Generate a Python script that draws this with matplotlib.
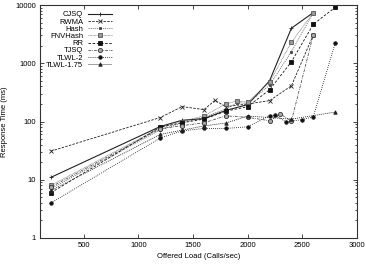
import matplotlib
matplotlib.use("Agg")
import matplotlib.pyplot as plt
from matplotlib.ticker import LogLocator, NullFormatter, FixedLocator

# ---- data ----
cjsq_x = [200, 1200, 1400, 1600, 1800, 2000, 2200, 2400, 2600]
cjsq_y = [11, 82, 105, 112, 155, 195, 500, 4000, 7400]

rwma_x = [200, 1200, 1400, 1600, 1700, 1800, 2000, 2200, 2400, 2600]
rwma_y = [31, 117, 180, 160, 230, 180, 200, 228, 410, 3060]

hash_x = [200, 1200, 1400, 1600, 1800, 1900, 2000, 2200, 2400, 2600]
hash_y = [7, 72, 95, 118, 165, 210, 205, 420, 1580, 7400]

fnv_x = [200, 1200, 1400, 1600, 1800, 1900, 2000, 2200, 2400, 2600]
fnv_y = [8, 78, 100, 125, 200, 225, 215, 470, 2300, 7400]

rr_x = [200, 1200, 1400, 1600, 1800, 2000, 2200, 2400, 2600, 2800]
rr_y = [6, 80, 95, 110, 150, 180, 350, 1060, 4660, 9100]

tjsq_x = [200, 1200, 1400, 1600, 1800, 2000, 2200, 2300, 2400, 2600]
tjsq_y = [7.5, 75, 85, 95, 125, 118, 103, 134, 102, 3060]

tlwl2_x = [200, 1200, 1400, 1600, 1800, 2000, 2200, 2250, 2350, 2500, 2600, 2800]
tlwl2_y = [4, 52, 69, 76, 76, 81, 126, 128, 98, 108, 121, 2200]

tlwl175_x = [200, 1200, 1400, 1600, 1800, 2000, 2400, 2800]
tlwl175_y = [6.5, 60, 71, 84, 94, 124, 110, 145]

labels = ["CJSQ", "RWMA", "Hash", "FNVHash", "RR", "TJSQ", "TLWL-2", "TLWL-1.75"]
x_ticks = [500, 1000, 1500, 2000, 2500, 3000]

plt.rcParams['font.family'] = ['Liberation Sans', 'DejaVu Sans']

fig = plt.figure(figsize=(3.66, 2.65), dpi=100)
ax = fig.add_axes([40/366, 1-238/265, (357-40)/366, (238-5)/265])

series = [
    (cjsq_x, cjsq_y, dict(ls='-', marker='+', ms=3.5, color='#222222', lw=0.8)),
    (rwma_x, rwma_y, dict(ls=(0, (3, 1.5)), marker='x', ms=2.5, color='#222222', lw=0.6)),
    (hash_x, hash_y, dict(ls=(0, (1.5, 1.5)), marker='s', ms=2, color='#444444', lw=0.5)),
    (fnv_x, fnv_y, dict(ls=(0, (1, 1)), marker='s', ms=3, mfc='#999999', color='#555555', lw=0.5)),
    (rr_x, rr_y, dict(ls=(0, (3, 2)), marker='s', ms=3, color='#111111', lw=0.6)),
    (tjsq_x, tjsq_y, dict(ls=(0, (4, 1.5, 1, 1.5)), marker='o', ms=3, mfc='#aaaaaa', color='#333333', lw=0.5)),
    (tlwl2_x, tlwl2_y, dict(ls=(0, (1, 1.5)), marker='o', ms=2.5, color='#111111', lw=0.6)),
    (tlwl175_x, tlwl175_y, dict(ls=(0, (1.2, 1.2)), marker='^', ms=2.5, color='#222222', lw=0.6)),
]
for (xs, ys, kw), lab in zip(series, labels):
    ax.plot(xs, ys, label=lab, mew=0.6, **kw)

ax.set_yscale('log')
ax.set_xlim(100, 3000)
ax.set_ylim(1, 10000)
ax.xaxis.set_major_locator(FixedLocator(x_ticks))
ax.yaxis.set_minor_locator(LogLocator(base=10, subs=range(2, 10), numticks=10))
ax.yaxis.set_minor_formatter(NullFormatter())
ax.set_yticks([1, 10, 100, 1000, 10000])
ax.set_yticklabels(["1", "10", "100", "1000", "10000"])
ax.tick_params(axis='both', which='both', direction='in', top=True, right=True,
               labelsize=5.5, pad=3, width=0.5)
ax.tick_params(which='major', length=3)
ax.tick_params(which='minor', length=1.5)
for s in ax.spines.values():
    s.set_linewidth(0.8)
    s.set_color('#333333')

ax.set_xlabel("Offered Load (Calls/sec)", fontsize=5.5, labelpad=3)
ax.set_ylabel("Response Time (ms)", fontsize=5.5, labelpad=5)

leg = ax.legend(loc='upper left', bbox_to_anchor=(0.0, 1.0), fontsize=5.5, frameon=False,
                markerfirst=False, handlelength=3.2, labelspacing=-0.02, handletextpad=0.6,
                borderaxespad=0.4)
for t in leg.get_texts():
    t.set_ha('right')
leg._legend_box.align = "right"

fig.savefig("out.png", dpi=100)
